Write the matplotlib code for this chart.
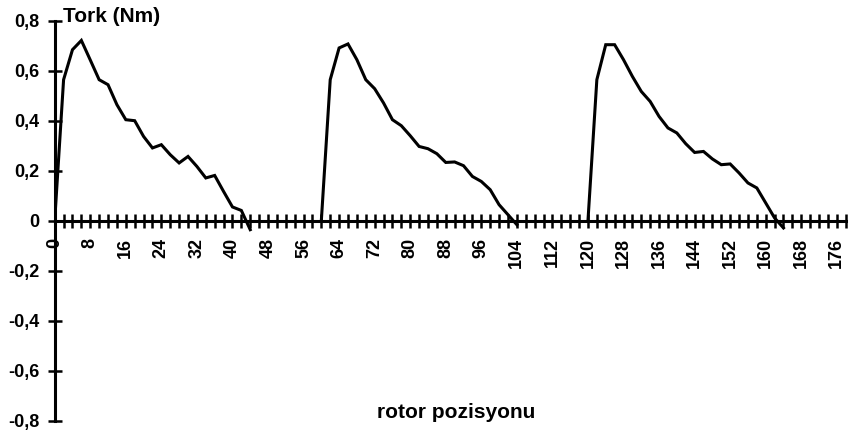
import numpy as np
import matplotlib.pyplot as plt

plt.rcParams['font.family'] = ['Liberation Sans', 'DejaVu Sans']
plt.rcParams['font.weight'] = 'bold'

# rotor position (categories, every 2 degrees)
rotor_pos = list(range(0, 180, 2))

# torque readings (Nm), None where there is no reading
tork = [0, 0.564, 0.684, 0.721, 0.643, 0.564, 0.544, 0.464, 0.404, 0.40,
        0.337, 0.291, 0.304, 0.264, 0.231, 0.257, 0.217, 0.171, 0.181, 0.117,
        0.055, 0.041, -0.036, None, None, None, None, None, None, None,
        0, 0.564, 0.691, 0.707, 0.644, 0.564, 0.528, 0.471, 0.404, 0.38,
        0.34, 0.297, 0.288, 0.268, 0.233, 0.235, 0.22, 0.177, 0.157, 0.124,
        0.064, 0.024, -0.016, None, None, None, None, None, None, None,
        0, 0.564, 0.704, 0.704, 0.644, 0.577, 0.517, 0.477, 0.417, 0.371,
        0.351, 0.308, 0.273, 0.277, 0.247, 0.224, 0.227, 0.191, 0.151, 0.131,
        0.071, 0.011, -0.029, None, None, None, None, None, None, None]

x_labels = [str(p) if p % 8 == 0 else '' for p in rotor_pos]
y_ticks = [-0.8, -0.6, -0.4, -0.2, 0, 0.2, 0.4, 0.6, 0.8]
y_labels = ['-0,8', '-0,6', '-0,4', '-0,2', '0', '0,2', '0,4', '0,6', '0,8']

y = np.array([np.nan if v is None else v for v in tork], dtype=float)

fig = plt.figure(figsize=(8.5, 4.34), dpi=100)
ax = fig.add_axes([54.7 / 850, 13.3 / 434, 791 / 850, 400 / 434])

ax.plot(rotor_pos, y, color='black', linewidth=2.2, solid_joinstyle='miter')

ax.set_xlim(0, 178)
ax.set_ylim(-0.8, 0.8)

ax.spines['top'].set_visible(False)
ax.spines['right'].set_visible(False)
ax.spines['bottom'].set_position(('data', 0))
ax.spines['left'].set_linewidth(2.2)
ax.spines['bottom'].set_linewidth(2.2)

ax.set_xticks(rotor_pos, x_labels)
ax.set_yticks(y_ticks, y_labels)
ax.tick_params(axis='x', direction='inout', length=9.5, width=1.8, pad=7.5,
               labelsize=13, labelrotation=90)
ax.tick_params(axis='y', direction='inout', length=10, width=1.8, pad=6,
               labelsize=13)

fig.text(63 / 850, 1 - 16 / 434, 'Tork (Nm)', fontsize=15, fontweight='bold',
         ha='left', va='center')
fig.text(456 / 850, 1 - 412 / 434, 'rotor pozisyonu', fontsize=15,
         fontweight='bold', ha='center', va='center')

fig.savefig('out.png', dpi=100)
